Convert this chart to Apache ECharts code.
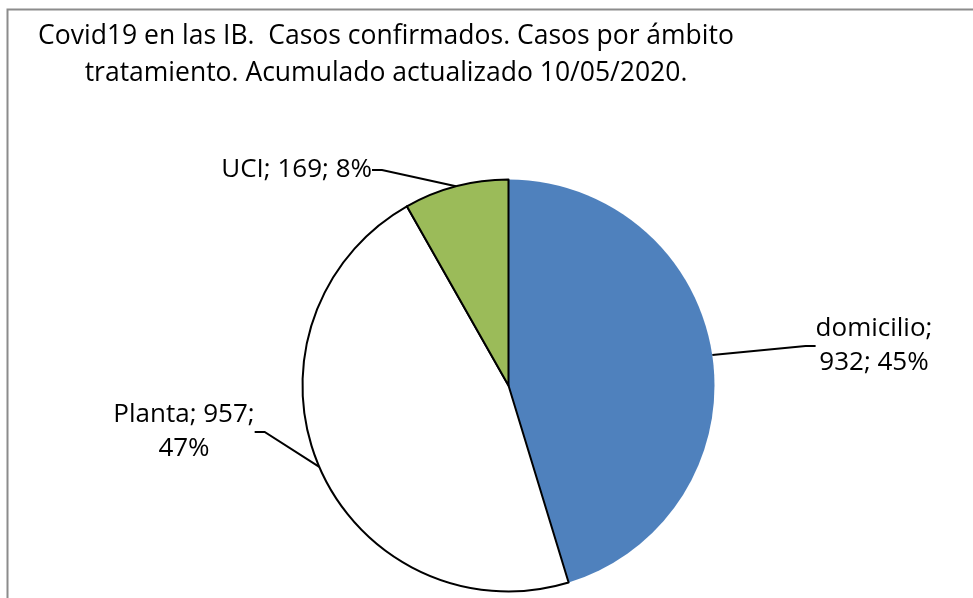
<!DOCTYPE html>
<html><head><meta charset="utf-8">
<script src="https://cdn.jsdelivr.net/npm/echarts@6/dist/echarts.min.js"></script>
<style>html,body{margin:0;padding:0;background:#fff}#c{width:973px;height:598px}</style>
</head><body><div id="c"></div>
<script>
var categories = ['domicilio', 'Planta', 'UCI'];
var values = [932, 957, 169];
var percents = ['45%', '47%', '8%'];
var titleLines = ['Covid19 en las IB.  Casos confirmados. Casos por ámbito', 'tratamiento. Acumulado actualizado 10/05/2020.'];

var colors = ['#4F81BD', '#FFFFFF', '#9BBB59'];
var borders = [0, 2, 2];
var labelTexts = [
  categories[0] + ';\n' + values[0] + '; ' + percents[0],
  categories[1] + '; ' + values[1] + ';\n' + percents[1],
  categories[2] + '; ' + values[2] + '; ' + percents[2]
];
var labelPos = [
  {x: 874, y: 346, align: 'center'},
  {x: 184, y: 432, align: 'center'},
  {x: 372, y: 170, align: 'right'}
];
var FONT = '"Open Sans", Lato, sans-serif';

var chart = echarts.init(document.getElementById('c'), null, {renderer: 'canvas'});
chart.setOption({
  animation: false,
  backgroundColor: '#fff',
  title: {
    text: titleLines.join('\n'),
    left: 381, top: 13, textAlign: 'center',
    textStyle: {fontFamily: FONT, fontSize: 26.5, fontWeight: 'normal', color: '#000', lineHeight: 37, align: 'center'}
  },
  graphic: [{
    type: 'rect', shape: {x: 7.5, y: 9.5, width: 1000, height: 700},
    style: {fill: 'none', stroke: '#8c8c8c', lineWidth: 2}, silent: true, z: -1
  }],
  series: [{
    type: 'pie',
    center: [508.5, 385.5],
    radius: 206,
    startAngle: 90,
    clockwise: true,
    data: categories.map(function (c, i) {
      return {
        name: c, value: values[i],
        itemStyle: {color: colors[i], borderColor: '#000', borderWidth: borders[i]},
        label: {formatter: labelTexts[i]}
      };
    }),
    label: {
      show: true, position: 'outside', color: '#000',
      fontFamily: FONT, fontSize: 26, lineHeight: 34, align: 'center'
    },
    labelLine: {show: true, length: 40, length2: 10, lineStyle: {color: '#000', width: 2}},
    labelLayout: function (p) {
      var lp = labelPos[p.dataIndex];
      return {x: lp.x, y: lp.y, align: lp.align, verticalAlign: 'middle'};
    },
    emphasis: {disabled: true}
  }]
});
</script>
</body></html>
